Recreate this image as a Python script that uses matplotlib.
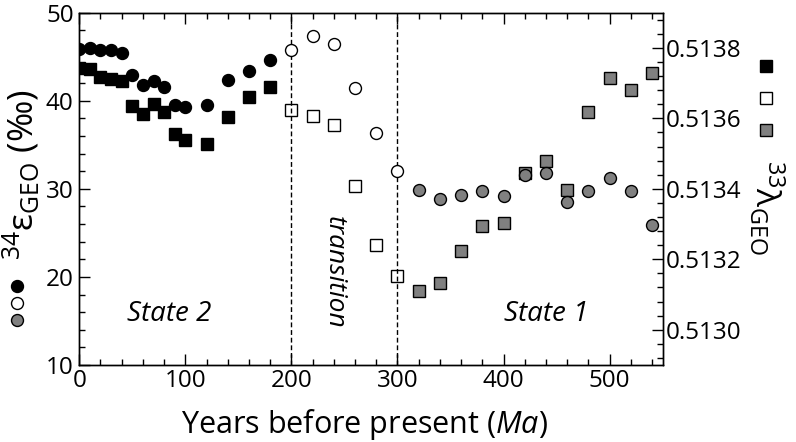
import matplotlib
matplotlib.use("Agg")
import matplotlib.pyplot as plt
from matplotlib.lines import Line2D
from matplotlib.ticker import MultipleLocator, FixedLocator

plt.rcParams['font.family'] = ['Open Sans', 'DejaVu Sans']
plt.rcParams['mathtext.fontset'] = 'custom'
plt.rcParams['mathtext.rm'] = 'Open Sans'
plt.rcParams['mathtext.it'] = 'Open Sans:italic'

# ---- data ----
# 34-epsilon (left axis, permil)
age_state2 = [0, 10, 20, 30, 40, 50, 60, 70, 80, 90, 100, 120, 140, 160, 180]
eps_state2 = [45.9, 46.0, 45.8, 45.75, 45.4, 42.95, 41.8, 42.3, 41.6, 39.5, 39.3, 39.5, 42.35, 43.4, 44.6]
age_trans = [200, 220, 240, 260, 280, 300]
eps_trans = [45.75, 47.3, 46.4, 41.4, 36.3, 32.05]
age_state1 = [320, 340, 360, 380, 400, 420, 440, 460, 480, 500, 520, 540]
eps_state1 = [29.85, 28.85, 29.3, 29.8, 29.2, 31.55, 31.85, 28.5, 29.8, 31.25, 29.75, 25.9]

# 33-lambda (right axis)
lam_state2 = [0.513744, 0.513739, 0.513717, 0.513711, 0.513707, 0.513635, 0.513612,
              0.513640, 0.513619, 0.513555, 0.513540, 0.513527, 0.513603, 0.513660, 0.513688]
lam_trans = [0.513624, 0.513608, 0.513581, 0.513409, 0.513240, 0.513152]
lam_state1 = [0.513110, 0.513134, 0.513224, 0.513295, 0.513302, 0.513444, 0.513479,
              0.513398, 0.513619, 0.513715, 0.513681, 0.513728]

boundaries = [200, 300]
left_ticks = [10, 20, 30, 40, 50]
right_ticks = [0.5130, 0.5132, 0.5134, 0.5136, 0.5138]
right_ticklabels = ['0.5130', '0.5132', '0.5134', '0.5136', '0.5138']
x_ticks = [0, 100, 200, 300, 400, 500]

GRAY = '#808080'

fig = plt.figure(figsize=(7.96, 4.42), dpi=100)
ax = fig.add_axes([0.0996, 0.1742, 0.8325 - 0.0996, 0.9713 - 0.1742])
ax2 = ax.twinx()
ax.set_zorder(ax2.get_zorder() + 1)
ax.patch.set_visible(False)

ms_c = 8.6
ms_s = 9.2
# squares on right axis
ax2.plot(age_state2, lam_state2, ls='none', marker='s', ms=ms_s, mfc='black', mec='black', mew=1.0)
ax2.plot(age_trans, lam_trans, ls='none', marker='s', ms=ms_s, mfc='white', mec='black', mew=1.0)
ax2.plot(age_state1, lam_state1, ls='none', marker='s', ms=ms_s, mfc=GRAY, mec='black', mew=1.0)
# circles on left axis
ax.plot(age_state2, eps_state2, ls='none', marker='o', ms=ms_c, mfc='black', mec='black', mew=1.0)
ax.plot(age_trans, eps_trans, ls='none', marker='o', ms=ms_c, mfc='white', mec='black', mew=1.0)
ax.plot(age_state1, eps_state1, ls='none', marker='o', ms=ms_c, mfc=GRAY, mec='black', mew=1.0)

for b in boundaries:
    ax.axvline(b, color='black', lw=1.0, ls=(0, (3.5, 2.0)), zorder=0)

ax.set_xlim(0, 550)
ax.set_ylim(10, 50)
ax2.set_ylim(0.5129, 0.5139)

ax.xaxis.set_major_locator(FixedLocator(x_ticks))
ax.xaxis.set_minor_locator(MultipleLocator(20))
ax.yaxis.set_major_locator(FixedLocator(left_ticks))
ax.yaxis.set_minor_locator(MultipleLocator(2))
ax2.yaxis.set_major_locator(FixedLocator(right_ticks))
ax2.set_yticklabels(right_ticklabels)
ax2.yaxis.set_minor_locator(MultipleLocator(0.00004))

ax.tick_params(axis='both', which='both', direction='in', top=True, right=False, width=1.0)
ax.tick_params(which='major', length=8, labelsize=17.5)
ax.tick_params(axis='y', which='major', pad=4)
ax.tick_params(axis='x', which='major', pad=3)
ax.tick_params(which='minor', length=4.5)
ax2.tick_params(axis='y', which='both', direction='in', width=1.0)
ax2.tick_params(which='major', length=8, labelsize=17.5, pad=2)
ax2.tick_params(which='minor', length=4.5)
for a in (ax, ax2):
    for s in a.spines.values():
        s.set_linewidth(1.0)

ax.set_xlabel('Years before present ($\\mathit{Ma}$)', fontsize=22)
ax.xaxis.set_label_coords(0.489, -0.118, transform=ax.transAxes)
ax.xaxis.label.set_va('top')

# region annotations
ax.text(85, 15.8, 'State 2', fontsize=20, style='italic', ha='center', va='center')
ax.text(440, 15.8, 'State 1', fontsize=20, style='italic', ha='center', va='center')
ax.text(240, 20.5, 'transition', fontsize=19, style='italic', ha='center', va='center', rotation=-90)

# axis labels
fig.text(0.027, 0.606, '$^{34}$ε$_{\\mathregular{GEO}}$ (‰)', fontsize=25.5, rotation=90,
         ha='center', va='center')
fig.text(0.962, 0.53, '$^{33}$λ$_{\\mathregular{GEO}}$', fontsize=24, rotation=-90,
         ha='center', va='center')

# marker keys beside the axis labels
h_left = [Line2D([], [], ls='none', marker='o', ms=ms_c, mfc=c, mec='black', mew=1.0)
          for c in ('black', 'white', GRAY)]
h_right = [Line2D([], [], ls='none', marker='s', ms=ms_s, mfc=c, mec='black', mew=1.0)
           for c in ('black', 'white', GRAY)]
legL = fig.legend(handles=h_left, labels=['', '', ''], loc='center', bbox_to_anchor=(0.021, 0.312),
                  frameon=False, handlelength=1.0, handletextpad=0, borderpad=0, borderaxespad=0,
                  labelspacing=0.15, fontsize=10)
legR = fig.legend(handles=h_right, labels=['', '', ''], loc='center', bbox_to_anchor=(0.962, 0.775),
                  frameon=False, handlelength=1.0, handletextpad=0, borderpad=0, borderaxespad=0,
                  labelspacing=1.2, fontsize=10)

fig.savefig('out.png', dpi=100)
